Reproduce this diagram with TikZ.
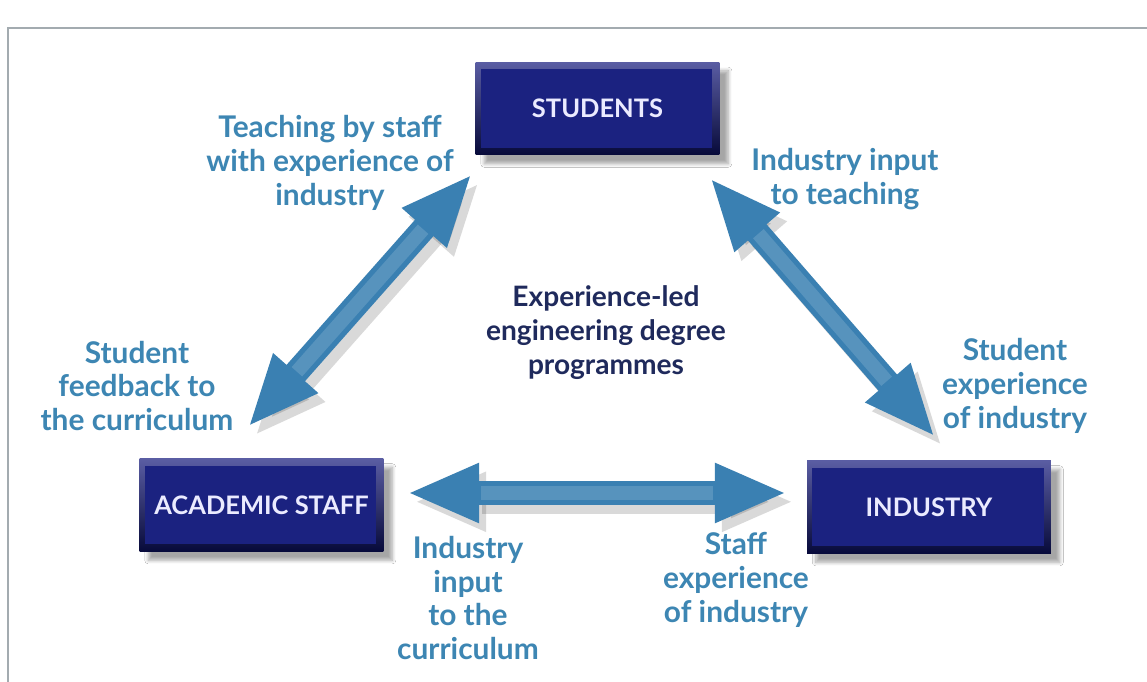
\documentclass[tikz,border=0pt]{standalone}
\usepackage{fontspec}
\setmainfont{Lato}
\usetikzlibrary{arrows.meta, shadows.blur}

\definecolor{labelblue}{HTML}{3D86B3}
\definecolor{centrenavy}{HTML}{1F2A5C}
\definecolor{boxnavy}{HTML}{1B2280}
\definecolor{bevellight}{HTML}{5A5DA3}
\definecolor{beveldark}{HTML}{070A3A}
\definecolor{arrowblue}{HTML}{3A80B2}
\definecolor{framegray}{HTML}{A3ABB0}

\tikzset{
  box/.style={rectangle, minimum width=4.88cm, minimum height=1.86cm,
    top color=bevellight, bottom color=beveldark, text=white!92!blue,
    font=\bfseries\fontsize{14.5}{16}\selectfont,
    blur shadow={shadow xshift=5pt, shadow yshift=-5pt, shadow blur steps=8, shadow opacity=35},
    path picture={\fill[boxnavy] ([shift={(3pt,4pt)}]path picture bounding box.south west)
      rectangle ([shift={(-4pt,-4pt)}]path picture bounding box.north east);}},
  lbl/.style={align=center, text=labelblue, font=\bfseries\fontsize{17}{19.3}\selectfont},
  biarrow/.style={line width=14pt, draw=arrowblue,
    {Triangle[length=41pt,width=31pt]}-{Triangle[length=41pt,width=31pt]}},
  arrowshine/.style={line width=8pt, draw=white!25!arrowblue, opacity=0.6,
    shorten <=42pt, shorten >=42pt},
  arrowshade/.style={biarrow, draw=black, opacity=0.15, transform canvas={shift={(4pt,-5pt)}}}
}

\begin{document}
\begin{tikzpicture}[x=0.02cm, y=-0.02cm]
\useasboundingbox (0,0) rectangle (1147,682);
\fill[white] (0,0) rectangle (1147,682);
\draw[framegray, line width=1.2pt] (8,682) -- (8,28) -- (1147,28);

% the three boxes
\node (stud) at (597.5,108.5) [box] {STUDENTS};
\node (staff) at (261.5,505) [box] {ACADEMIC STAFF};
\node (ind) at (929,507) [box] {INDUSTRY};

% arrow ends
\coordinate (sl) at (472,174);
\coordinate (sr) at (710,178);
\coordinate (al) at (248,427);
\coordinate (ah) at (407,493);
\coordinate (ih) at (787,493);
\coordinate (ir) at (935,437);

\draw[arrowshade] (al) -- (sl);
\draw[arrowshade] (sr) -- (ir);
\draw[arrowshade] (ah) -- (ih);
\draw[biarrow] (al) -- (sl);
\draw[biarrow] (sr) -- (ir);
\draw[biarrow] (ah) -- (ih);
\draw[arrowshine] (al) -- (sl);
\draw[arrowshine] (sr) -- (ir);
\draw[arrowshine] (ah) -- (ih);

% labels
\node (teach) at (330,163) [lbl] {Teaching by staff\\with experience of\\industry};
\node (input) at (845,179) [lbl] {Industry input\\to teaching};
\node (centre) at (606,333) [lbl, text=centrenavy, font=\bfseries\fontsize{16}{19.3}\selectfont] {Experience-led\\engineering degree\\programmes};
\node (feedback) at (137,386) [lbl] {Student\\feedback to\\the curriculum};
\node (exper) at (1015,386) [lbl] {Student\\experience\\of industry};
\node (curric) at (468,598) [lbl] {Industry\\input\\to the\\curriculum};
\node (staffexp) at (736,580) [lbl] {Staff\\experience\\of industry};

\end{tikzpicture}
\end{document}
